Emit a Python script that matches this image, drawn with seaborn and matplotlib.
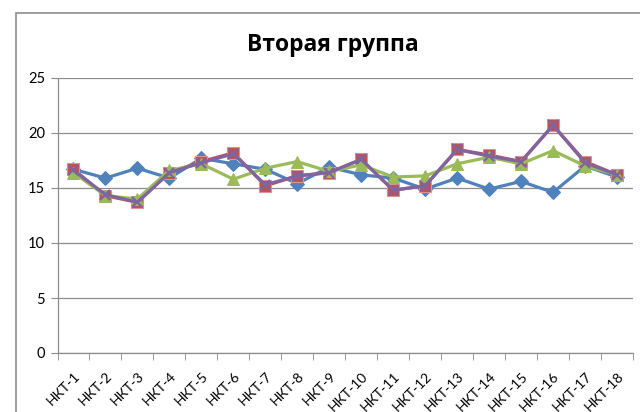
import pandas as pd
import matplotlib
matplotlib.use("Agg")
import matplotlib.pyplot as plt
from matplotlib.patches import Rectangle
import seaborn as sns

# data
labels = [f"НКТ-{i}" for i in range(1, 19)]
blue = [16.7, 15.9, 16.8, 15.9, 17.7, 17.2, 16.7, 15.4, 16.9,
        16.2, 15.9, 14.9, 15.9, 14.9, 15.6, 14.6, 17.0, 16.0]
red = [16.7, 14.3, 13.7, 16.4, 17.4, 18.2, 15.2, 16.1, 16.4,
       17.6, 14.8, 15.2, 18.5, 18.0, 17.4, 20.7, 17.4, 16.2]
green = [16.4, 14.3, 14.0, 16.6, 17.2, 15.8, 16.8, 17.4, 16.5,
         17.1, 16.0, 16.1, 17.2, 17.8, 17.2, 18.4, 17.0, 16.2]
purple = [16.6, 14.4, 13.7, 16.4, 17.3, 18.1, 15.3, 16.1, 16.4,
          17.6, 14.8, 15.2, 18.5, 17.9, 17.4, 20.7, 17.3, 16.2]

sns.set_style("white")
plt.rcParams["font.family"] = ["Lato", "DejaVu Sans"]
plt.rcParams["text.color"] = "black"
plt.rcParams["xtick.color"] = "black"
plt.rcParams["ytick.color"] = "black"

fig = plt.figure(figsize=(6.4, 4.12), dpi=100)
ax = fig.add_axes([57.5 / 640, 1 - 353 / 412, (633 - 57.5) / 640, (353 - 78) / 412])

# chart area border
fig.patches.append(Rectangle((16 / 640, -0.1), 1.2, 1.1 - 13 / 412,
                             transform=fig.transFigure, fill=False,
                             edgecolor="#8c8c8c", linewidth=1.2))

x = list(range(len(labels)))
series = [
    (blue, "#4F81BD", dict(marker="D", markersize=7, markeredgecolor="#4F81BD")),
    (red, "#C0504D", dict(marker="s", markersize=8, markeredgecolor="#D99594", markeredgewidth=0.8)),
    (green, "#9BBB59", dict(marker="^", markersize=9, markeredgecolor="#9BBB59")),
    (purple, "#8064A2", dict(marker="x", markersize=7, markeredgecolor="#8064A2", markeredgewidth=1.6)),
]
for vals, col, mk in series:
    sns.lineplot(x=x, y=vals, ax=ax, color=col, linewidth=2.3, **mk)

ax.set_xlim(-0.5, len(labels) - 0.5)
ax.set_ylim(0, 25)
ax.set_yticks([0, 5, 10, 15, 20, 25])
ax.yaxis.grid(True, color="#8c8c8c", linewidth=0.9)
ax.set_axisbelow(True)

ax.set_xticks(x)
ax.set_xticklabels(labels, rotation=45, ha="right", va="top", rotation_mode="anchor", fontsize=10)
ax.set_xticks([i - 0.5 for i in range(len(labels) + 1)], minor=True)
ax.tick_params(axis="x", which="major", length=0, pad=12)
ax.tick_params(axis="x", which="minor", length=5, color="#8c8c8c", direction="out", bottom=True)
ax.tick_params(axis="y", length=5, color="#8c8c8c", direction="out", left=True, labelsize=10.5, pad=4)

for side in ["top", "right"]:
    ax.spines[side].set_visible(False)
for side in ["left", "bottom"]:
    ax.spines[side].set_color("#8c8c8c")
    ax.spines[side].set_linewidth(0.9)

fig.text(333 / 640, 1 - 45 / 412, "Вторая группа", ha="center", va="center",
         fontsize=16.5, fontweight="bold", family=["Open Sans", "DejaVu Sans"])

fig.savefig("out.png", dpi=100)
